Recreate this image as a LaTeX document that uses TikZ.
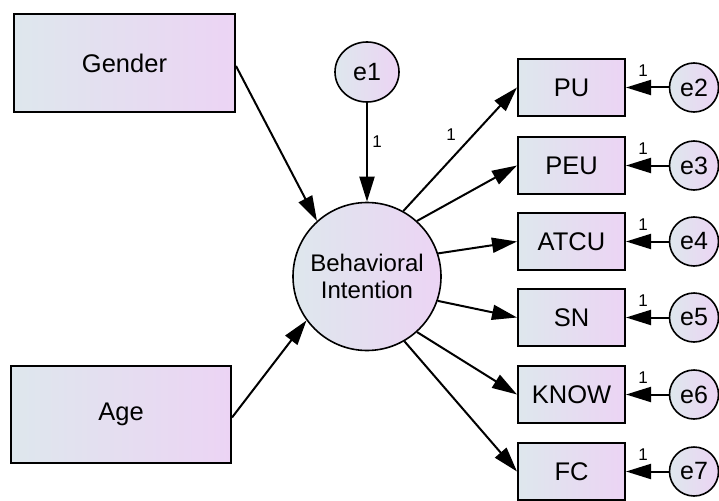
\documentclass[tikz,border=0pt]{standalone}
\usepackage{fontspec}
\setmainfont{Liberation Sans}
\usetikzlibrary{arrows.meta,shapes.geometric}
\definecolor{gl}{RGB}{222,231,237}
\definecolor{gr}{RGB}{236,212,244}
\tikzset{
  obs/.style={draw=black, line width=2pt, left color=gl, right color=gr, inner sep=0pt, font=\fontsize{25.5}{28}\selectfont},
  lat/.style={draw=black, line width=1.6pt, circle, left color=gl, right color=gr, inner sep=0pt, font=\fontsize{25}{28}\selectfont},
  arr/.style={line width=2pt, -{Triangle[length=25pt,width=15pt]}},
  wt/.style={font=\fontsize{17}{20}\selectfont, inner sep=0pt}
}
\begin{document}
\begin{tikzpicture}[x=1pt,y=-1pt]
\useasboundingbox (0,0) rectangle (719,500);
% exogenous boxes
\node[obs, minimum width=221pt, minimum height=98pt] (gender) at (124.5,63) {Gender};
\node[obs, minimum width=220pt, minimum height=97pt] (age) at (121,414.5) {Age};
% latent
\node[lat, minimum size=148pt, align=center, font=\fontsize{24}{27}\selectfont] (bi) at (367,276.5) {Behavioral\\Intention};
\node[lat, ellipse, minimum width=64pt, minimum height=60pt] (e1) at (367,72) {e1};
% indicators
\foreach \n/\t/\y/\e in {pu/PU/87.5/e2, peu/PEU/165.5/e3, atcu/ATCU/241.5/e4, sn/SN/317.5/e5, know/KNOW/394.5/e6, fc/FC/471.5/e7}{
  \node[obs, minimum width=107pt, minimum height=57pt] (\n) at (571.5,\y) {\t};
  \node[lat, minimum size=49pt] (\e) at (694,\y) {\e};
  \draw[arr] (\e) -- (\n.east);
  \node[wt] (w\n) at (643,\y-17) {1};
}
% paths
\draw[arr] ([yshift=-3pt]gender.east) -- (bi.132);
\draw[arr] ([yshift=-3pt]age.east) -- (bi.216);
\draw[arr] (e1.south) -- (bi.north);
\node[wt] (we1) at (377,142) {1};
\draw[arr] (bi.61.6) -- (pu.west);
\node[wt] (wpu) at (451,135) {1};
\draw[arr] (bi.48) -- (peu.west);
\draw[arr] (bi.18) -- (atcu.west);
\draw[arr] (bi.-19) -- (sn.west);
\draw[arr] (bi.-48) -- (know.west);
\draw[arr] (bi.-60.5) -- (fc.west);
\end{tikzpicture}
\end{document}
